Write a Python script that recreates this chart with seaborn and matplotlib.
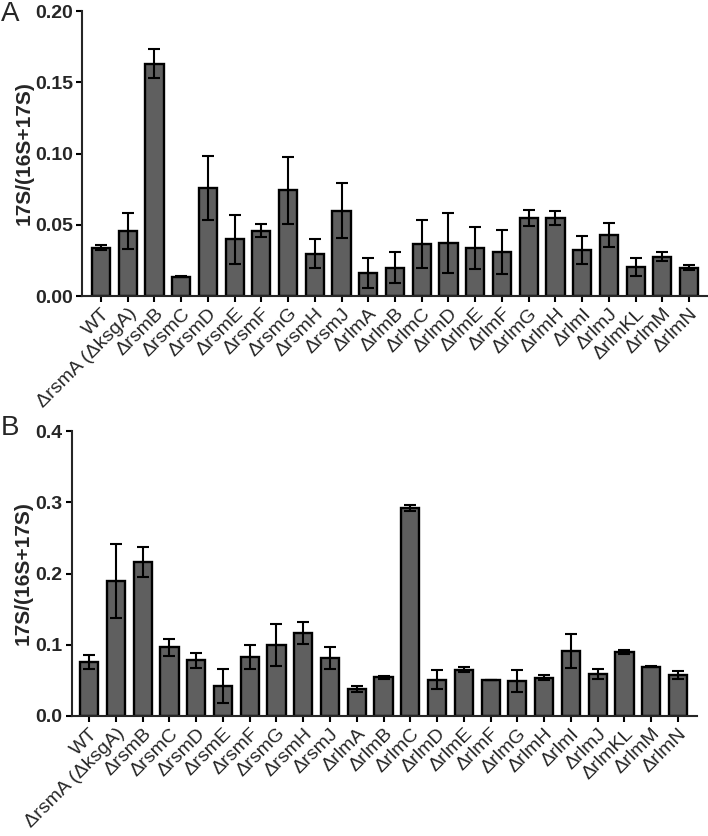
import numpy as np
import pandas as pd
import matplotlib
matplotlib.use('Agg')
import matplotlib.pyplot as plt
import seaborn as sns

sns.set_style('ticks')
plt.rcParams['font.family'] = ['Liberation Sans', 'DejaVu Sans']

# szczepy (wspólne dla obu paneli)
strains = ['WT', 'ΔrsmA (ΔksgA)', 'ΔrsmB', 'ΔrsmC', 'ΔrsmD', 'ΔrsmE', 'ΔrsmF',
           'ΔrsmG', 'ΔrsmH', 'ΔrsmJ', 'ΔrlmA', 'ΔrlmB', 'ΔrlmC', 'ΔrlmD',
           'ΔrlmE', 'ΔrlmF', 'ΔrlmG', 'ΔrlmH', 'ΔrlmI', 'ΔrlmJ', 'ΔrlmKL',
           'ΔrlmM', 'ΔrlmN']

# panel A
mean_a = [0.034, 0.0456, 0.163, 0.0136, 0.0756, 0.0398, 0.0458, 0.0742, 0.0297,
          0.0599, 0.0164, 0.0199, 0.0363, 0.037, 0.0337, 0.0309, 0.0547, 0.0545,
          0.0323, 0.0428, 0.0204, 0.0276, 0.0199]
err_a = [0.002, 0.0125, 0.01, 0.0006, 0.0225, 0.017, 0.0045, 0.0235, 0.0103,
         0.0195, 0.0105, 0.011, 0.017, 0.021, 0.0147, 0.0156, 0.0057, 0.005,
         0.01, 0.0087, 0.0065, 0.003, 0.0016]

# panel B
mean_b = [0.0753, 0.189, 0.2166, 0.0964, 0.0781, 0.0426, 0.0828, 0.0996, 0.1165,
          0.0814, 0.0379, 0.0543, 0.2919, 0.051, 0.065, 0.0505, 0.0486, 0.0538,
          0.0917, 0.0594, 0.0898, 0.0692, 0.058]
err_b = [0.01, 0.052, 0.021, 0.012, 0.0103, 0.024, 0.017, 0.03, 0.015, 0.0155,
         0.004, 0.002, 0.004, 0.013, 0.0033, 0.0006, 0.0154, 0.0033, 0.024,
         0.007, 0.0023, 0.0006, 0.0056]

ylab = '17S/(16S+17S)'

W, H = 708, 836
fig = plt.figure(figsize=(W / 100, H / 100), dpi=100)
ax_a = fig.add_axes([82 / W, 1 - 296 / H, (707 - 82) / W, (296 - 11) / H])
ax_b = fig.add_axes([71.7 / W, 1 - 716 / H, (697 - 71.7) / W, (716 - 431) / H])


def panel(ax, means, errs, ymax, step, fmt, xlim, lab_x):
    df = pd.DataFrame({'strain': strains, 'val': means})
    sns.barplot(data=df, x='strain', y='val', color='#5f5f5f', saturation=1,
                edgecolor='black', linewidth=1.7, width=0.68, errorbar=None, ax=ax)
    ax.errorbar(np.arange(len(strains)), means, yerr=errs, fmt='none',
                ecolor='black', elinewidth=1.5, capsize=4.5, capthick=1.5)
    ax.set_ylim(0, ymax)
    ax.set_xlim(*xlim)
    ticks = np.arange(0, ymax + step / 2, step)
    ax.set_yticks(ticks)
    ax.set_yticklabels([fmt.format(v) for v in ticks], fontsize=14, fontweight='bold')
    ax.set_xticks(range(len(strains)))
    ax.set_xticklabels(strains, rotation=45, ha='right', rotation_mode='anchor',
                       fontsize=14)
    ax.set_xlabel('')
    ax.set_ylabel(ylab, fontsize=15, fontweight='bold', va='center')
    ax.yaxis.set_label_coords(lab_x, 0.5)
    sns.despine(ax=ax)
    for s in ['left', 'bottom']:
        ax.spines[s].set_linewidth(1.5)
    ax.tick_params(axis='both', width=1.5, length=4.5, pad=2, color='black')


panel(ax_a, mean_a, err_a, 0.20, 0.05, '{:.2f}', (-0.71, 22.67), -0.093)
panel(ax_b, mean_b, err_b, 0.4, 0.1, '{:.1f}', (-0.65, 22.71), -0.078)

fig.text(1 / W, 1 - 1 / H, 'A', fontsize=20, va='top', ha='left')
fig.text(1 / W, 1 - 415 / H, 'B', fontsize=20, va='top', ha='left')

fig.savefig('out.png', dpi=100)
